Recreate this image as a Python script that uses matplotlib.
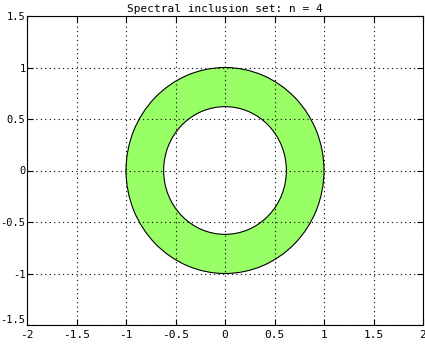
import matplotlib
matplotlib.use("Agg")
import matplotlib.pyplot as plt
from matplotlib.patches import Annulus

# annulus radii (spectral inclusion set, n = 4)
centre = (0.0, 0.0)
outer_radius = 1.0
inner_radius = 0.62

x_ticks = [-2, -1.5, -1, -0.5, 0, 0.5, 1, 1.5, 2]
y_ticks = [-1.5, -1, -0.5, 0, 0.5, 1, 1.5]
title = "Spectral inclusion set: n = 4"

plt.rcParams['font.family'] = ['DejaVu Sans Mono']
plt.rcParams['font.size'] = 8
plt.rcParams['axes.unicode_minus'] = False

fig = plt.figure(figsize=(4.25, 3.44), dpi=100)
ax = fig.add_axes([27 / 425, 19 / 344, 396 / 425, 309 / 344])

ring = Annulus(centre, outer_radius, outer_radius - inner_radius,
               facecolor='#99ff66', edgecolor='black', linewidth=0.8)
ax.add_patch(ring)

ax.set_xlim(-2, 2)
ax.set_ylim(-1.5, 1.5)
ax.set_xticks(x_ticks)
ax.set_yticks(y_ticks)
ax.set_xticklabels([f"{t:g}" for t in x_ticks])
ax.set_yticklabels([f"{t:g}" for t in y_ticks], fontsize=7.5)
ax.tick_params(direction='in', length=4, width=0.8, top=True, right=True)
ax.tick_params(axis='x', pad=3.5)
ax.tick_params(axis='y', pad=1)
# lift the lowest y label a little so it clears the first x label
ax.get_yticklabels()[0].set_verticalalignment('bottom')
ax.set_axisbelow(False)
ax.grid(True, linestyle=(0, (1, 3)), color='black', linewidth=0.8)
for s in ax.spines.values():
    s.set_linewidth(0.8)
ax.set_title(title, fontsize=8, pad=3)

fig.savefig("out.png", dpi=100)
